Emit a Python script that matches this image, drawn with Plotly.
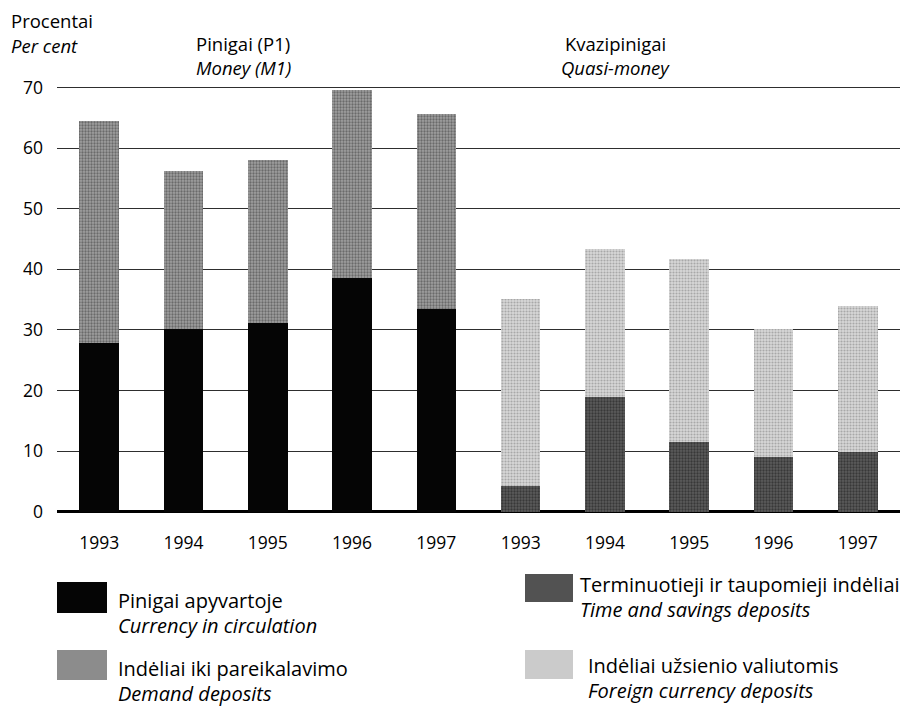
import plotly.graph_objects as go

# ---------------- data ----------------
years = ["1993", "1994", "1995", "1996", "1997"]
currency = [27.9, 30.2, 31.2, 38.5, 33.4]          # Pinigai apyvartoje
demand = [36.6, 26.1, 26.9, 31.0, 32.2]            # Indėliai iki pareikalavimo
time_savings = [4.2, 19.0, 11.5, 9.1, 9.8]         # Terminuotieji ir taupomieji indėliai
foreign = [30.9, 24.4, 30.2, 21.1, 24.1]           # Indėliai užsienio valiutomis
y_ticks = [0, 10, 20, 30, 40, 50, 60, 70]

# ---------------- layout geometry ----------------
W, H = 909, 707
L, R, T, B = 57, 900, 81.9, 512.9
FONT = "Open Sans"

def px(x):
    return (x - L) / (R - L)

def py(y):
    return (B - y) / (B - T)

x_m1 = list(range(0, 5))
x_quasi = list(range(5, 10))
all_ticks = x_m1 + x_quasi
tick_text = years + years

C_CUR = "#050505"
C_DEM = "#8c8c8c"
C_TIME = "#525252"
C_FOR = "#cbcbcb"

fig = go.Figure()
bw = 0.47
fig.add_trace(go.Bar(x=x_m1, y=currency, width=bw, marker=dict(color=C_CUR, line=dict(width=0)),
                     name="Currency in circulation"))
fig.add_trace(go.Bar(x=x_m1, y=demand, width=bw,
                     marker=dict(color=C_DEM, line=dict(width=0),
                                 pattern=dict(shape=".", bgcolor="#a0a0a0", fgcolor="#6a6a6a",
                                              size=3, solidity=0.45, fillmode="replace")),
                     name="Demand deposits"))
fig.add_trace(go.Bar(x=x_quasi, y=time_savings, width=bw,
                     marker=dict(color=C_TIME, line=dict(width=0),
                                 pattern=dict(shape=".", bgcolor="#5c5c5c", fgcolor="#383838",
                                              size=3, solidity=0.45, fillmode="replace")),
                     name="Time and savings deposits"))
fig.add_trace(go.Bar(x=x_quasi, y=foreign, width=bw,
                     marker=dict(color=C_FOR, line=dict(width=0),
                                 pattern=dict(shape=".", bgcolor="#d8d8d8", fgcolor="#a8a8a8",
                                              size=3, solidity=0.4, fillmode="replace")),
                     name="Foreign currency deposits"))

fig.update_layout(
    width=W, height=H,
    barmode="stack",
    showlegend=False,
    paper_bgcolor="white",
    plot_bgcolor="white",
    margin=dict(l=L, r=W - R, t=T, b=H - B, pad=0),
    font=dict(family=FONT, size=17.5, color="#000000"),
    xaxis=dict(range=[-0.5, 9.5], tickvals=all_ticks, ticktext=tick_text,
               showgrid=False, zeroline=False, showline=False, ticks="",
               ticklabelstandoff=17, tickfont=dict(size=17.5)),
    yaxis=dict(range=[-0.2, 70.9], tickvals=y_ticks, showgrid=True, gridcolor="#2e2e2e",
               gridwidth=1, zeroline=True, zerolinecolor="#000000", zerolinewidth=2.5,
               showline=False, ticks="", ticklabelstandoff=13, tickfont=dict(size=17.5)),
)

ann = []
def text(x, y, s, italic=False, anchor="left", size=18.5):
    ann.append(dict(x=px(x), y=py(y), xref="paper", yref="paper", text=(f"<i>{s}</i>" if italic else s),
                    showarrow=False, xanchor=anchor, yanchor="middle",
                    font=dict(family=FONT, size=size, color="#000000")))

# header texts
text(9, 20, "Procentai")
text(9, 45, "Per cent", italic=True)
text(243, 43, "Pinigai (P1)", anchor="center")
text(243, 67, "Money (M1)", italic=True, anchor="center")
text(615, 43, "Kvazipinigai", anchor="center")
text(615, 67, "Quasi-money", italic=True, anchor="center")

# legend texts
LS = 20
text(116, 600, "Pinigai apyvartoje", size=LS)
text(116, 625, "Currency in circulation", italic=True, size=LS)
text(116, 668, "Indėliai iki pareikalavimo", size=LS)
text(116, 693, "Demand deposits", italic=True, size=LS)
text(578, 584, "Terminuotieji ir taupomieji indėliai", size=LS)
text(578, 609, "Time and savings deposits", italic=True, size=LS)
text(586, 665, "Indėliai užsienio valiutomis", size=LS)
text(586, 690, "Foreign currency deposits", italic=True, size=LS)

shapes = []
def square(x0, y0, x1, y1, color):
    shapes.append(dict(type="rect", xref="paper", yref="paper", x0=px(x0), x1=px(x1),
                       y0=py(y1), y1=py(y0), fillcolor=color, line=dict(width=0), layer="above"))

square(57, 582, 107, 613, C_CUR)
square(57, 650, 107, 680, C_DEM)
square(525, 574, 573, 602, C_TIME)
square(525, 650, 573, 679, C_FOR)

fig.update_layout(annotations=ann, shapes=shapes)
fig.write_html("out.html", config={"displayModeBar": False},
               post_script="document.body.style.margin='0px';document.body.style.overflow='hidden';")
